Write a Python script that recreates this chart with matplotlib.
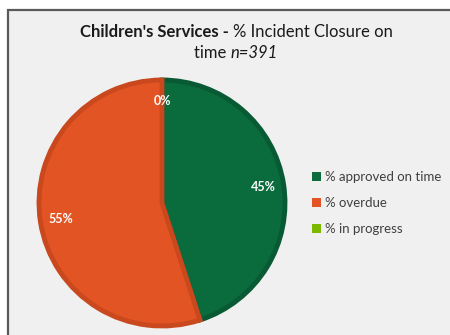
import matplotlib.pyplot as plt
from matplotlib.patches import Rectangle, Patch

labels = ["% approved on time", "% overdue", "% in progress"]
values = [45, 55, 0]
colors = ["#0a6b3d", "#e35424", "#7cb800"]
edges = ["#075a33", "#c9481d", "#6aa000"]

plt.rcParams['font.family'] = ['Lato', 'DejaVu Sans']

fig = plt.figure(figsize=(4.5, 3.35), dpi=100)
fig.patch.set_facecolor("white")

# chart area frame, runs off the right and bottom edges
W, H = 450, 335
fig.patches.append(Rectangle((8 / W, -0.1), 1.2, (H - 10) / H + 0.1,
                             transform=fig.transFigure, facecolor="#f0f0f0",
                             edgecolor="#5a5a5a", linewidth=1.6, zorder=-5))

ax = fig.add_axes([39 / W, 9 / H, 246 / W, 246 / H])
ax.set_zorder(2)
wedges, texts, autotexts = ax.pie(values, colors=colors, startangle=90, counterclock=False,
                                  autopct=lambda p: f"{p:.0f}%", pctdistance=0.83,
                                  wedgeprops=dict(linewidth=3.5))
for w, ec, v in zip(wedges, edges, values):
    w.set_edgecolor(ec)
    if v == 0:
        w.set_linewidth(0)
for t in autotexts:
    t.set_color("white")
    t.set_fontsize(9)
    t.set_fontweight("bold")
ax.set_xlim(-1.0, 1.0)
ax.set_ylim(-1.0, 1.0)
ax.set_aspect("equal")

fig.text(0.517, 0.905, "Children's Services - ", ha="right", va="center",
         fontsize=12, fontweight="bold", color="#1a1a1a")
fig.text(0.517, 0.905, "% Incident Closure on", ha="left", va="center",
         fontsize=12, color="#1a1a1a")
fig.text(0.512, 0.842, "time ", ha="right", va="center", fontsize=12, color="#1a1a1a")
fig.text(0.512, 0.842, "n=391", ha="left", va="center", fontsize=12,
         style="italic", color="#1a1a1a")

handles = [Patch(facecolor=c, label=l) for c, l in zip(colors, labels)]
fig.legend(handles=handles, loc="center left", bbox_to_anchor=(312 / W, 1 - 203 / H),
           frameon=False, fontsize=9.5, handlelength=0.65, handleheight=0.65,
           handletextpad=0.3, labelspacing=1.05, labelcolor="#404040",
           borderpad=0, borderaxespad=0)

fig.savefig("out.png", dpi=100, facecolor=fig.get_facecolor())
